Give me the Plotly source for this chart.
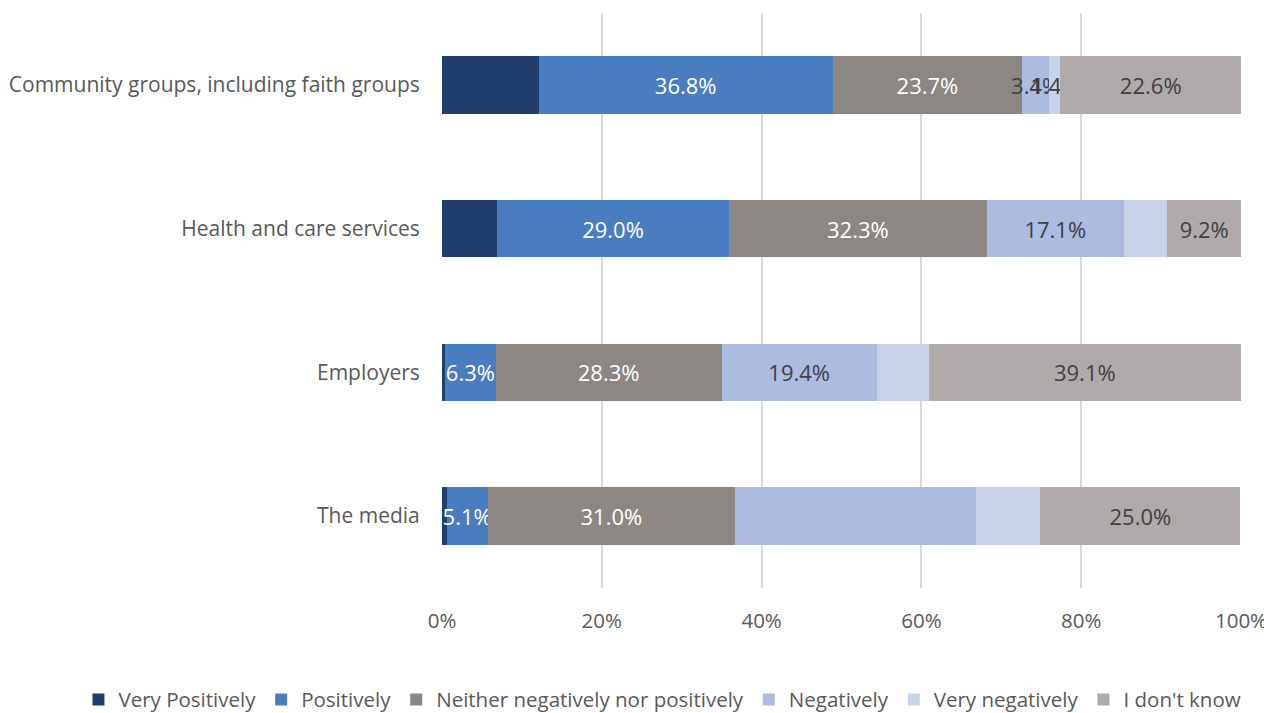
import plotly.graph_objects as go

categories = ["Community groups, including faith groups", "Health and care services", "Employers", "The media"]
series_names = ["Very Positively", "Positively", "Neither negatively nor positively", "Negatively", "Very negatively", "I don't know"]
very_positively = [12.1, 6.9, 0.4, 0.6]
positively = [36.8, 29.0, 6.3, 5.1]
neither = [23.7, 32.3, 28.3, 31.0]
negatively = [3.4, 17.1, 19.4, 30.1]
very_negatively = [1.4, 5.5, 6.5, 8.1]
dont_know = [22.6, 9.2, 39.1, 25.0]
# which segments carry a data label
show_vp = [False, False, False, False]
show_p = [True, True, True, True]
show_n = [True, True, True, True]
show_neg = [True, True, True, False]
show_vn = [True, False, False, False]
show_dk = [True, True, True, True]
tick_vals = [0, 20, 40, 60, 80, 100]
tick_text = ["0%", "20%", "40%", "60%", "80%", "100%"]

series = [very_positively, positively, neither, negatively, very_negatively, dont_know]
shows = [show_vp, show_p, show_n, show_neg, show_vn, show_dk]
colors = ["#213f6c", "#4a7dc0", "#8c8783", "#adbbe0", "#c8d3ea", "#b0abaa"]
text_colors = ["#ffffff", "#ffffff", "#ffffff", "#404040", "#404040", "#404040"]

FONT = "Open Sans"
fig = go.Figure()
for name, vals, sh, col, tc in zip(series_names, series, shows, colors, text_colors):
    fig.add_trace(go.Bar(
        name=name, y=categories, x=vals, orientation="h",
        marker=dict(color=col, line=dict(width=0)),
        text=[f"{v:.1f}%" if s else "" for v, s in zip(vals, sh)],
        textposition="inside", insidetextanchor="middle", textangle=0,
        textfont=dict(color=tc, size=22, family=FONT),
        hoverinfo="skip",
    ))

# the page body adds an 8px offset, so the figure is 8px smaller on each axis
fig.update_layout(
    barmode="stack", bargap=0.6,
    width=1264, height=705,
    margin=dict(l=434, r=31, t=5, b=125, autoexpand=False),
    plot_bgcolor="white", paper_bgcolor="white",
    font=dict(family=FONT, color="#595959", size=21),
    uniformtext=dict(minsize=22, mode="show"),
    legend=dict(orientation="h", xref="paper", x=-0.455, xanchor="left",
                yref="paper", y=-0.194, yanchor="middle",
                font=dict(size=20.5, color="#595959"), traceorder="normal",
                itemwidth=30, tracegroupgap=0),
    xaxis=dict(range=[0, 100], tickvals=tick_vals, ticktext=tick_text,
               showgrid=True, gridcolor="#d9d9d9", gridwidth=1.5, zeroline=False,
               ticks="outside", ticklen=14, tickcolor="rgba(0,0,0,0)",
               tickfont=dict(size=20.5, color="#595959"), showline=False, fixedrange=True),
    yaxis=dict(autorange="reversed", showgrid=False, zeroline=False,
               ticks="outside", ticklen=17, tickcolor="rgba(0,0,0,0)",
               tickfont=dict(size=21, color="#595959"), showline=False),
)
fig.write_html("out.html")
